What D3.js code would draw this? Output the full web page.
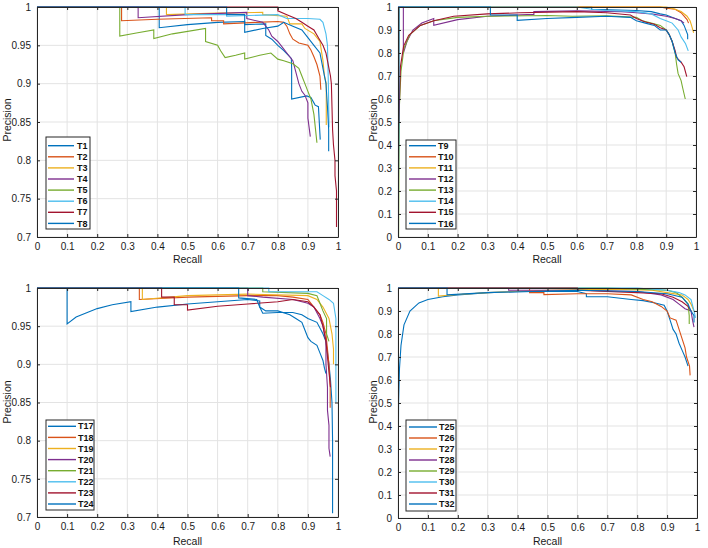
<!DOCTYPE html>
<html>
<head>
<meta charset="utf-8">
<script src="https://cdn.jsdelivr.net/npm/d3@7"></script>
<style>
  body { margin: 0; background: #fff; }
  svg { font-family: "Liberation Sans", Arial, sans-serif; }
</style>
</head>
<body>
<svg id="chart" width="708" height="548"></svg>
<script>
// tick labels
var xTicks = [0, 0.1, 0.2, 0.3, 0.4, 0.5, 0.6, 0.7, 0.8, 0.9, 1];
var yTicksHigh = [0.7, 0.75, 0.8, 0.85, 0.9, 0.95, 1];
var yTicksFull = [0, 0.1, 0.2, 0.3, 0.4, 0.5, 0.6, 0.7, 0.8, 0.9, 1];

// matlab default line colours (T8 wraps to the first one)
var colors = ["#0072BD", "#D95319", "#EDB120", "#7E2F8E", "#77AC30", "#4DBEEE", "#A2142F", "#0072BD"];

// series names
var namesA = ["T1", "T2", "T3", "T4", "T5", "T6", "T7", "T8"];
var namesB = ["T9", "T10", "T11", "T12", "T13", "T14", "T15", "T16"];
var namesC = ["T17", "T18", "T19", "T20", "T21", "T22", "T23", "T24"];
var namesD = ["T25", "T26", "T27", "T28", "T29", "T30", "T31", "T32"];

// [recall, precision]
var t1 = [[0,1],[0.406,1],[0.406,0.973],[0.5,0.977],[0.6,0.98],[0.69,0.981],[0.69,0.977],[0.76,0.978],[0.76,0.963],[0.78,0.958],[0.8,0.95],[0.82,0.943],[0.845,0.933],[0.846,0.92],[0.846,0.88],[0.896,0.884],[0.91,0.882],[0.924,0.872],[0.935,0.87],[0.941,0.827]];
var t2 = [[0,1],[0.281,1],[0.281,0.982],[0.4,0.984],[0.58,0.986],[0.58,0.982],[0.62,0.982],[0.62,0.978],[0.73,0.98],[0.8,0.981],[0.82,0.98],[0.83,0.975],[0.84,0.965],[0.85,0.958],[0.87,0.953],[0.9,0.95],[0.91,0.944],[0.92,0.935],[0.93,0.925],[0.94,0.91],[0.943,0.892]];
var t3 = [[0,1],[0.43,1],[0.43,0.99],[0.6,0.992],[0.75,0.993],[0.75,0.99],[0.83,0.988],[0.84,0.978],[0.88,0.978],[0.89,0.972],[0.92,0.965],[0.94,0.955],[0.95,0.93],[0.955,0.91],[0.961,0.9],[0.961,0.846]];
var t4 = [[0,1],[0.336,1],[0.336,0.986],[0.5,0.99],[0.697,0.993],[0.697,0.985],[0.75,0.98],[0.77,0.97],[0.78,0.962],[0.8,0.955],[0.82,0.945],[0.83,0.94],[0.85,0.93],[0.86,0.915],[0.87,0.9],[0.88,0.89],[0.89,0.885],[0.9,0.875],[0.9,0.855],[0.908,0.831]];
var t5 = [[0,1],[0.275,1],[0.275,0.962],[0.33,0.966],[0.388,0.97],[0.388,0.959],[0.45,0.965],[0.56,0.972],[0.56,0.955],[0.6,0.95],[0.61,0.943],[0.625,0.934],[0.66,0.937],[0.69,0.94],[0.69,0.932],[0.74,0.937],[0.777,0.94],[0.8,0.932],[0.82,0.93],[0.85,0.926],[0.87,0.92],[0.88,0.91],[0.89,0.9],[0.9,0.89],[0.91,0.88],[0.92,0.86],[0.93,0.823]];
var t6 = [[0,1],[0.492,1],[0.492,0.99],[0.63,0.99],[0.63,0.988],[0.8,0.99],[0.83,0.985],[0.9,0.985],[0.94,0.984],[0.95,0.98],[0.96,0.965],[0.965,0.95],[0.968,0.9],[0.97,0.85],[0.97,0.843]];
var t7 = [[0,1],[0.8,1],[0.8,0.995],[0.83,0.99],[0.86,0.985],[0.88,0.98],[0.9,0.975],[0.92,0.97],[0.935,0.96],[0.95,0.95],[0.96,0.94],[0.965,0.93],[0.97,0.92],[0.975,0.91],[0.978,0.9],[0.98,0.87],[0.982,0.84],[0.985,0.82],[0.99,0.8],[0.99,0.78],[0.995,0.76],[0.995,0.713]];
var t8 = [[0,1],[0.63,1],[0.63,0.99],[0.69,0.99],[0.69,0.967],[0.75,0.972],[0.8,0.975],[0.82,0.98],[0.85,0.975],[0.88,0.97],[0.9,0.96],[0.92,0.95],[0.94,0.94],[0.95,0.92],[0.96,0.9],[0.965,0.87],[0.969,0.84],[0.969,0.812]];

var t9 = [[0,0],[0.002,1],[0.65,1],[0.65,0.99],[0.8,0.985],[0.85,0.98],[0.88,0.97],[0.9,0.965],[0.93,0.95],[0.95,0.94],[0.96,0.92],[0.972,0.88],[0.972,0.86]];
var t10 = [[0,0],[0.003,1],[0.88,1],[0.9,0.995],[0.93,0.99],[0.95,0.975],[0.96,0.96],[0.97,0.945],[0.975,0.93]];
var t11 = [[0,0],[0.003,1],[0.9,1],[0.93,0.99],[0.95,0.98],[0.97,0.96],[0.98,0.94],[0.985,0.92],[0.992,0.888]];
var t12 = [[0,1],[0.018,1],[0.018,0.8],[0.03,0.85],[0.05,0.9],[0.08,0.93],[0.12,0.95],[0.12,0.92],[0.2,0.945],[0.3,0.96],[0.456,0.968],[0.456,0.98],[0.6,0.983],[0.75,0.98],[0.8,0.975],[0.85,0.97],[0.9,0.96],[0.93,0.95],[0.95,0.94],[0.96,0.93]];
var t13 = [[0.002,0],[0.004,0.55],[0.01,0.72],[0.02,0.82],[0.04,0.88],[0.075,0.92],[0.12,0.94],[0.2,0.955],[0.3,0.96],[0.5,0.963],[0.585,0.96],[0.7,0.962],[0.8,0.955],[0.82,0.94],[0.85,0.93],[0.88,0.92],[0.9,0.9],[0.91,0.88],[0.92,0.85],[0.93,0.8],[0.935,0.75],[0.94,0.71],[0.95,0.68],[0.955,0.65],[0.964,0.6]];
var t14 = [[0,0],[0.003,1],[0.6,1],[0.65,0.99],[0.7,0.985],[0.8,0.98],[0.85,0.97],[0.88,0.95],[0.9,0.94],[0.92,0.93],[0.94,0.9],[0.95,0.87],[0.965,0.84],[0.974,0.809]];
var t15 = [[0.003,0.5],[0.008,0.74],[0.019,0.83],[0.036,0.877],[0.075,0.92],[0.12,0.94],[0.187,0.96],[0.3,0.97],[0.41,0.975],[0.6,0.98],[0.7,0.975],[0.78,0.965],[0.8,0.95],[0.83,0.935],[0.86,0.925],[0.88,0.91],[0.9,0.9],[0.91,0.88],[0.92,0.85],[0.93,0.81],[0.935,0.78],[0.95,0.76],[0.96,0.74],[0.969,0.697]];
var t16 = [[0,0],[0.003,0.5],[0.003,1],[0.31,1],[0.31,0.965],[0.4,0.965],[0.4,0.942],[0.5,0.95],[0.6,0.955],[0.7,0.96],[0.78,0.955],[0.8,0.94],[0.83,0.93],[0.86,0.92],[0.88,0.9],[0.9,0.9],[0.91,0.88],[0.92,0.85],[0.93,0.8],[0.94,0.77],[0.95,0.76]];

var t17 = [[0,1],[0.1,1],[0.1,0.953],[0.13,0.962],[0.2,0.973],[0.25,0.978],[0.312,0.982],[0.312,0.969],[0.4,0.975],[0.5,0.979],[0.6,0.982],[0.7,0.985],[0.74,0.983],[0.74,0.975],[0.75,0.967],[0.8,0.968],[0.85,0.968],[0.88,0.965],[0.9,0.96],[0.93,0.955],[0.95,0.94],[0.96,0.93],[0.97,0.9],[0.975,0.88],[0.98,0.85],[0.982,0.8],[0.982,0.705]];
var t18 = [[0,1],[0.34,1],[0.34,0.985],[0.5,0.988],[0.7,0.99],[0.8,0.99],[0.85,0.988],[0.9,0.985],[0.92,0.975],[0.94,0.965],[0.95,0.955],[0.96,0.94],[0.965,0.92],[0.97,0.9],[0.974,0.87],[0.974,0.843]];
var t19 = [[0,1],[0.35,1],[0.35,0.985],[0.5,0.99],[0.7,0.992],[0.9,0.99],[0.93,0.985],[0.95,0.975],[0.97,0.96],[0.98,0.94],[0.985,0.92],[0.985,0.9]];
var t20 = [[0,1],[0.7,1],[0.7,0.99],[0.75,0.988],[0.85,0.985],[0.9,0.98],[0.92,0.975],[0.94,0.96],[0.95,0.95],[0.96,0.93],[0.96,0.9],[0.965,0.87],[0.965,0.84],[0.97,0.82],[0.97,0.79],[0.974,0.779]];
var t21 = [[0,1],[0.75,1],[0.75,0.995],[0.9,0.993],[0.93,0.99],[0.94,0.98],[0.95,0.97],[0.962,0.96],[0.962,0.94],[0.97,0.93]];
var t22 = [[0,1],[0.77,1],[0.77,0.995],[0.93,0.995],[0.95,0.99],[0.97,0.985],[0.985,0.98],[0.993,0.96],[0.993,0.85]];
var t23 = [[0,1],[0.414,1],[0.414,0.988],[0.456,0.988],[0.456,0.978],[0.5,0.978],[0.5,0.971],[0.6,0.976],[0.7,0.979],[0.8,0.982],[0.85,0.985],[0.9,0.982],[0.92,0.975],[0.94,0.965],[0.95,0.95],[0.96,0.93],[0.965,0.91],[0.97,0.89],[0.975,0.87]];
var t24 = [[0,1],[0.67,1],[0.67,0.987],[0.73,0.985],[0.74,0.975],[0.76,0.97],[0.8,0.97],[0.84,0.965],[0.86,0.96],[0.88,0.955],[0.89,0.945],[0.9,0.935],[0.91,0.93],[0.93,0.925],[0.94,0.915],[0.95,0.905],[0.955,0.895],[0.96,0.888]];

var t25 = [[0,0],[0.002,0.5],[0.005,0.65],[0.01,0.75],[0.02,0.84],[0.04,0.9],[0.07,0.935],[0.1,0.95],[0.15,0.962],[0.2,0.97],[0.3,0.98],[0.4,0.985],[0.6,0.985],[0.63,0.975],[0.63,0.962],[0.7,0.962],[0.78,0.95],[0.82,0.945],[0.86,0.935],[0.89,0.925],[0.9,0.9],[0.91,0.86],[0.92,0.82],[0.93,0.8],[0.94,0.76],[0.95,0.73],[0.96,0.7],[0.97,0.66]];
var t26 = [[0,1],[0.44,1],[0.44,0.98],[0.488,0.98],[0.488,0.971],[0.6,0.975],[0.7,0.975],[0.78,0.97],[0.82,0.95],[0.85,0.94],[0.88,0.92],[0.9,0.9],[0.91,0.87],[0.93,0.86],[0.94,0.82],[0.95,0.78],[0.96,0.74],[0.965,0.7],[0.975,0.66],[0.977,0.62]];
var t27 = [[0,1],[0.135,1],[0.135,0.965],[0.2,0.972],[0.3,0.98],[0.5,0.99],[0.7,0.995],[0.85,0.99],[0.9,0.98],[0.95,0.97],[0.97,0.95],[0.98,0.93],[0.99,0.9]];
var t28 = [[0,1],[0.37,1],[0.37,0.99],[0.6,0.99],[0.8,0.985],[0.88,0.97],[0.92,0.95],[0.94,0.93],[0.96,0.91],[0.98,0.9],[0.985,0.86],[0.99,0.83]];
var t29 = [[0,1],[0.7,1],[0.8,0.995],[0.9,0.99],[0.93,0.98],[0.95,0.96],[0.97,0.93],[0.974,0.88],[0.974,0.844]];
var t30 = [[0,1],[0.8,1],[0.9,0.99],[0.94,0.98],[0.96,0.97],[0.98,0.95],[0.99,0.9],[0.995,0.87]];
var t31 = [[0,1],[0.6,1],[0.6,0.99],[0.8,0.98],[0.88,0.975],[0.92,0.96],[0.95,0.94],[0.97,0.92],[0.98,0.9]];
var t32 = [[0,1],[0.164,1],[0.164,0.97],[0.3,0.98],[0.45,0.985],[0.6,0.99],[0.8,0.985],[0.9,0.975],[0.95,0.96],[0.97,0.93],[0.98,0.9],[0.99,0.88],[0.99,0.85]];

var svg = d3.select("#chart");

var panels = [
  {id: "a", left: 37, right: 338, top: 7, bottom: 237, yMin: 0.7, yTicks: yTicksHigh,
   names: namesA, series: [t1, t2, t3, t4, t5, t6, t7, t8],
   yLabelX: 11, yLabelY: 120, xLabelY: 263,
   leg: {x: 46, y: 137, w: 44, h: 92, l0: 48, l1: 74, tx: 77, first: 145.7, step: 11.1}},
  {id: "b", left: 398, right: 696, top: 7, bottom: 237, yMin: 0, yTicks: yTicksFull,
   names: namesB, series: [t9, t10, t11, t12, t13, t14, t15, t16],
   yLabelX: 377, yLabelY: 120, xLabelY: 263,
   leg: {x: 406, y: 140, w: 50, h: 89, l0: 409, l1: 436, tx: 438, first: 145.7, step: 11.1}},
  {id: "c", left: 37, right: 338, top: 288, bottom: 517, yMin: 0.7, yTicks: yTicksHigh,
   names: namesC, series: [t17, t18, t19, t20, t21, t22, t23, t24],
   yLabelX: 11, yLabelY: 402, xLabelY: 545,
   leg: {x: 46, y: 420, w: 48, h: 90, l0: 48, l1: 76, tx: 78, first: 426.3, step: 11.1}},
  {id: "d", left: 398, right: 697, top: 288, bottom: 518, yMin: 0, yTicks: yTicksFull,
   names: namesD, series: [t25, t26, t27, t28, t29, t30, t31, t32],
   yLabelX: 377, yLabelY: 402, xLabelY: 545,
   leg: {x: 406, y: 420, w: 50, h: 91, l0: 409, l1: 437, tx: 439, first: 427, step: 11.0}}
];

var axisColor = "#262626";

panels.forEach(function(p) {
  var x = d3.scaleLinear().domain([0, 1]).range([p.left, p.right]);
  var y = d3.scaleLinear().domain([p.yMin, 1]).range([p.bottom, p.top]);
  var g = svg.append("g");

  // grid
  g.selectAll(".vg").data(xTicks).enter().append("line")
    .attr("x1", function(d) { return x(d); }).attr("x2", function(d) { return x(d); })
    .attr("y1", p.top).attr("y2", p.bottom)
    .attr("stroke", "#e3e3e3").attr("stroke-width", 1);
  g.selectAll(".hg").data(p.yTicks).enter().append("line")
    .attr("y1", function(d) { return y(d); }).attr("y2", function(d) { return y(d); })
    .attr("x1", p.left).attr("x2", p.right)
    .attr("stroke", "#e3e3e3").attr("stroke-width", 1);

  // curves
  svg.append("clipPath").attr("id", "clip-" + p.id).append("rect")
    .attr("x", p.left).attr("y", p.top - 1)
    .attr("width", p.right - p.left).attr("height", p.bottom - p.top + 2);
  var line = d3.line().x(function(d) { return x(d[0]); }).y(function(d) { return y(d[1]); });
  g.append("g").attr("clip-path", "url(#clip-" + p.id + ")")
    .selectAll("path").data(p.series).enter().append("path")
    .attr("d", line)
    .attr("fill", "none")
    .attr("stroke", function(d, i) { return colors[i]; })
    .attr("stroke-width", 1.1);

  // axes, ticks inward on all four sides
  var xb = d3.axisBottom(x).tickValues(xTicks).tickSizeInner(-3).tickSizeOuter(0).tickPadding(6)
    .tickFormat(function(d) { return d3.format("")(+d.toFixed(2)); });
  var xt = d3.axisTop(x).tickValues(xTicks).tickSizeInner(-3).tickSizeOuter(0).tickFormat("");
  var yl = d3.axisLeft(y).tickValues(p.yTicks).tickSizeInner(-3).tickSizeOuter(0).tickPadding(6)
    .tickFormat(function(d) { return d3.format("")(+d.toFixed(2)); });
  var yr = d3.axisRight(y).tickValues(p.yTicks).tickSizeInner(-3).tickSizeOuter(0).tickFormat("");

  [[xb, "translate(0," + p.bottom + ")"], [xt, "translate(0," + p.top + ")"],
   [yl, "translate(" + p.left + ",0)"], [yr, "translate(" + p.right + ",0)"]].forEach(function(a) {
    var ax = g.append("g").attr("transform", a[1]).call(a[0]);
    ax.selectAll("path").attr("stroke", axisColor).attr("stroke-width", 1);
    ax.selectAll("line").attr("stroke", axisColor);
    ax.selectAll("text").attr("fill", "#1a1a1a").style("font-size", "10px")
      .style("font-family", "'Liberation Sans', Arial, sans-serif");
  });

  // axis labels
  g.append("text").attr("x", (p.left + p.right) / 2).attr("y", p.xLabelY)
    .attr("text-anchor", "middle").attr("fill", "#1a1a1a").style("font-size", "10.5px").text("Recall");
  g.append("text").attr("transform", "translate(" + p.yLabelX + "," + p.yLabelY + ") rotate(-90)")
    .attr("text-anchor", "middle").attr("fill", "#1a1a1a").style("font-size", "10.5px").text("Precision");

  // legend
  var L = p.leg;
  var lg = g.append("g");
  lg.append("rect").attr("x", L.x).attr("y", L.y).attr("width", L.w).attr("height", L.h)
    .attr("fill", "#fff").attr("stroke", axisColor).attr("stroke-width", 1);
  var item = lg.selectAll(".item").data(p.names).enter().append("g");
  item.append("line")
    .attr("x1", L.l0).attr("x2", L.l1)
    .attr("y1", function(d, i) { return L.first + i * L.step; })
    .attr("y2", function(d, i) { return L.first + i * L.step; })
    .attr("stroke", function(d, i) { return colors[i]; }).attr("stroke-width", 1.4);
  item.append("text")
    .attr("x", L.tx).attr("y", function(d, i) { return L.first + i * L.step; })
    .attr("dy", "0.35em").attr("fill", "#111").style("font-size", "9px").style("font-weight", "bold")
    .text(function(d) { return d; });
});
</script>
</body>
</html>
